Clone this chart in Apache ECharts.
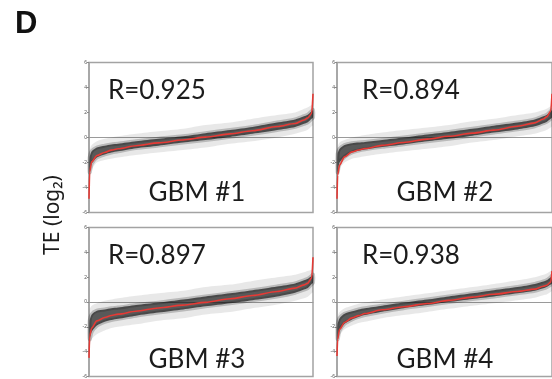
<!DOCTYPE html>
<html>
<head>
<meta charset="utf-8">
<script src="https://cdn.jsdelivr.net/npm/echarts@6/dist/echarts.min.js"></script>
<style>html,body{margin:0;padding:0;background:#fff;}#c{width:552px;height:379px;}</style>
</head>
<body>
<div id="c"></div>
<script>
// rank percentile positions of the read points
const X = [0, 0.3, 1.2, 3.5, 7, 10, 13, 21, 31, 42, 52, 63, 73, 84, 92, 96, 97.5, 99.4, 100];
// red sorted curves (TE, log2)
const red1 = [-4.9, -2.75, -1.95, -1.45, -1.2, -1.01, -0.9, -0.66, -0.43, -0.2, 0.03, 0.29, 0.54, 0.88, 1.12, 1.4, 1.55, 1.92, 3.5];
const red2 = [-4.9, -3.0, -2.2, -1.55, -1.15, -1.0, -0.88, -0.63, -0.4, -0.13, 0.1, 0.35, 0.59, 0.9, 1.17, 1.48, 1.65, 2.1, 3.5];
const red3 = [-4.5, -2.75, -2.1, -1.52, -1.25, -1.09, -0.98, -0.74, -0.48, -0.25, -0.03, 0.26, 0.52, 0.84, 1.12, 1.38, 1.5, 1.92, 3.6];
const red4 = [-4.35, -3.0, -2.2, -1.65, -1.28, -1.1, -0.93, -0.63, -0.38, -0.12, 0.13, 0.39, 0.62, 0.85, 1.04, 1.27, 1.35, 1.6, 2.5];

// scatter cloud envelopes (dense core and sparse outer)
const BX = [0.3, 1.2, 3.5, 7, 10, 13, 21, 31, 42, 52, 63, 73, 84, 92, 96, 97.5, 99.4, 100];
const core1Lo = [-2.8, -2.1, -1.6, -1.35, -1.2, -1.1, -0.85, -0.65, -0.4, -0.2, 0.05, 0.3, 0.6, 0.85, 1.1, 1.2, 1.5, 1.6];
const core1Hi = [-1.6, -1.1, -0.8, -0.65, -0.55, -0.5, -0.3, -0.1, 0.1, 0.35, 0.6, 0.85, 1.2, 1.45, 1.7, 1.8, 2.1, 2.2];
const out1Lo = [-3.2, -2.6, -2.0, -1.8, -1.7, -1.6, -1.4, -1.2, -1.0, -0.8, -0.5, -0.3, 0.0, 0.3, 0.5, 0.6, 0.9, 1.0];
const out1Hi = [-1.0, -0.6, -0.3, -0.1, 0.0, 0.1, 0.3, 0.5, 0.7, 1.0, 1.2, 1.5, 1.8, 2.0, 2.3, 2.4, 2.6, 2.7];

const core2Lo = [-2.8, -2.0, -1.55, -1.2, -1.05, -0.95, -0.75, -0.55, -0.3, -0.1, 0.15, 0.4, 0.65, 0.9, 1.15, 1.25, 1.5, 1.6];
const core2Hi = [-1.3, -0.9, -0.6, -0.45, -0.4, -0.35, -0.2, 0.0, 0.25, 0.45, 0.7, 0.95, 1.2, 1.45, 1.7, 1.8, 2.1, 2.2];
const out2Lo = [-3.2, -2.5, -2.0, -1.7, -1.6, -1.5, -1.3, -1.1, -0.9, -0.7, -0.4, -0.2, 0.1, 0.3, 0.5, 0.6, 0.8, 0.9];
const out2Hi = [-0.8, -0.4, -0.2, 0.0, 0.1, 0.2, 0.4, 0.6, 0.8, 1.0, 1.3, 1.5, 1.8, 2.0, 2.2, 2.3, 2.5, 2.6];

const core3Lo = [-3.0, -2.4, -1.9, -1.6, -1.45, -1.35, -1.1, -0.85, -0.6, -0.35, -0.1, 0.15, 0.45, 0.75, 1.0, 1.1, 1.45, 1.55];
const core3Hi = [-1.5, -1.0, -0.7, -0.6, -0.5, -0.45, -0.25, -0.05, 0.2, 0.45, 0.7, 0.95, 1.25, 1.5, 1.75, 1.85, 2.1, 2.2];
const out3Lo = [-3.6, -3.0, -2.6, -2.3, -2.1, -2.0, -1.8, -1.5, -1.3, -1.0, -0.8, -0.5, -0.2, 0.1, 0.3, 0.4, 0.7, 0.8];
const out3Hi = [-0.6, -0.3, -0.1, 0.1, 0.2, 0.3, 0.5, 0.7, 0.9, 1.2, 1.4, 1.7, 2.0, 2.2, 2.4, 2.5, 2.6, 2.7];

const core4Lo = [-3.0, -2.3, -1.75, -1.4, -1.2, -1.05, -0.78, -0.5, -0.25, 0.0, 0.25, 0.45, 0.7, 0.9, 1.1, 1.2, 1.4, 1.5];
const core4Hi = [-1.8, -1.3, -0.95, -0.75, -0.6, -0.5, -0.3, -0.05, 0.2, 0.45, 0.7, 0.95, 1.2, 1.45, 1.65, 1.75, 2.0, 2.1];
const out4Lo = [-3.4, -2.7, -2.2, -1.9, -1.7, -1.6, -1.3, -1.05, -0.8, -0.55, -0.3, -0.1, 0.15, 0.35, 0.55, 0.6, 0.8, 0.9];
const out4Hi = [-1.2, -0.8, -0.5, -0.3, -0.15, -0.05, 0.2, 0.45, 0.7, 0.95, 1.2, 1.45, 1.75, 2.0, 2.2, 2.3, 2.5, 2.6];

const yTicks = [-6, -4, -2, 0, 2, 4, 6];
const rLabels = ['R=0.925', 'R=0.894', 'R=0.897', 'R=0.938'];
const sampleNames = ['GBM #1', 'GBM #2', 'GBM #3', 'GBM #4'];
const yTitle = 'TE (log\u2082)';

const reds = [red1, red2, red3, red4];
const cores = [[core1Lo, core1Hi], [core2Lo, core2Hi], [core3Lo, core3Hi], [core4Lo, core4Hi]];
const outs = [[out1Lo, out1Hi], [out2Lo, out2Hi], [out3Lo, out3Hi], [out4Lo, out4Hi]];

const panelPos = [
  {left: 89, top: 62.5}, {left: 337, top: 62.5},
  {left: 89, top: 227.5}, {left: 337, top: 227.5}
];
const PW = 224, PH = 150;

const chart = echarts.init(document.getElementById('c'), null, {renderer: 'canvas'});

function band(gi, lo, hi, fill, stroke, lw, z) {
  return {
    type: 'custom', xAxisIndex: gi, yAxisIndex: gi, silent: true, animation: false, z: z,
    data: [[BX[0], lo[0]]],
    renderItem: function (params, api) {
      const pts = [];
      for (let i = 0; i < BX.length; i++) pts.push(api.coord([BX[i], hi[i]]));
      for (let i = BX.length - 1; i >= 0; i--) pts.push(api.coord([BX[i], lo[i]]));
      return {type: 'polygon', shape: {points: pts, smooth: 0.25},
        style: {fill: fill, stroke: stroke, lineWidth: lw}};
    }
  };
}

const grids = [], xAxes = [], yAxes = [], series = [], graphics = [];
for (let g = 0; g < 4; g++) {
  grids.push({left: panelPos[g].left, top: panelPos[g].top, width: PW, height: PH,
    show: true, borderColor: '#a3a3a3', borderWidth: 1.5, backgroundColor: 'transparent'});
  xAxes.push({type: 'value', gridIndex: g, min: 0, max: 100,
    axisLine: {show: true, onZero: true, lineStyle: {color: '#9a9a9a', width: 1}},
    axisTick: {show: false}, axisLabel: {show: false}, splitLine: {show: false}});
  yAxes.push({type: 'value', gridIndex: g, min: yTicks[0], max: yTicks[yTicks.length - 1], interval: 2,
    axisLine: {show: true, onZero: false, lineStyle: {color: '#a3a3a3', width: 1.5}},
    axisTick: {show: true, length: 2, lineStyle: {color: '#888'}},
    axisLabel: {fontSize: 5, color: '#555', margin: 2, fontFamily: 'Liberation Sans'},
    splitLine: {show: false}});
  series.push(band(g, outs[g][0], outs[g][1], 'rgba(0,0,0,0.09)', null, 0, 1));
  series.push(band(g, cores[g][0], cores[g][1], 'rgba(20,20,20,0.68)', 'rgba(20,20,20,0.22)', 4, 2));
  series.push({type: 'line', xAxisIndex: g, yAxisIndex: g, z: 3, animation: false,
    data: X.map((x, i) => [x, reds[g][i]]), showSymbol: false, symbol: 'none',
    smooth: 0.3, smoothMonotone: 'x',
    lineStyle: {color: '#e53a35', width: 1.6}});
}

const textFont = 'Lato, "Open Sans", sans-serif';
const rPos = [[108, 91], [362, 91], [108, 256], [362, 256]];
const gPos = [[197, 193], [445, 193], [197, 360], [445, 360]];
for (let g = 0; g < 4; g++) {
  graphics.push({type: 'text', x: rPos[g][0], y: rPos[g][1], z: 10,
    style: {text: rLabels[g], fontSize: 26, fontFamily: textFont, fill: '#1c1c1c',
      textAlign: 'left', textVerticalAlign: 'middle'}});
  graphics.push({type: 'text', x: gPos[g][0], y: gPos[g][1], z: 10,
    style: {text: sampleNames[g], fontSize: 26, fontFamily: textFont, fill: '#1c1c1c',
      textAlign: 'center', textVerticalAlign: 'middle'}});
}
graphics.push({type: 'text', x: 15, y: 24, z: 10,
  style: {text: 'D', fontSize: 31, fontWeight: 'bold', fontFamily: 'Liberation Sans, Arial, sans-serif',
    fill: '#111', textVerticalAlign: 'middle'}});
graphics.push({type: 'group', x: 53, y: 215, rotation: Math.PI / 2, z: 10,
  children: [{type: 'text', x: 0, y: 0,
    style: {text: yTitle, fontSize: 21, fontFamily: '"Noto Sans", Lato, sans-serif', fill: '#1c1c1c',
      textAlign: 'center', textVerticalAlign: 'middle'}}]});

chart.setOption({
  animation: false,
  grid: grids, xAxis: xAxes, yAxis: yAxes, series: series, graphic: graphics
});
</script>
</body>
</html>
